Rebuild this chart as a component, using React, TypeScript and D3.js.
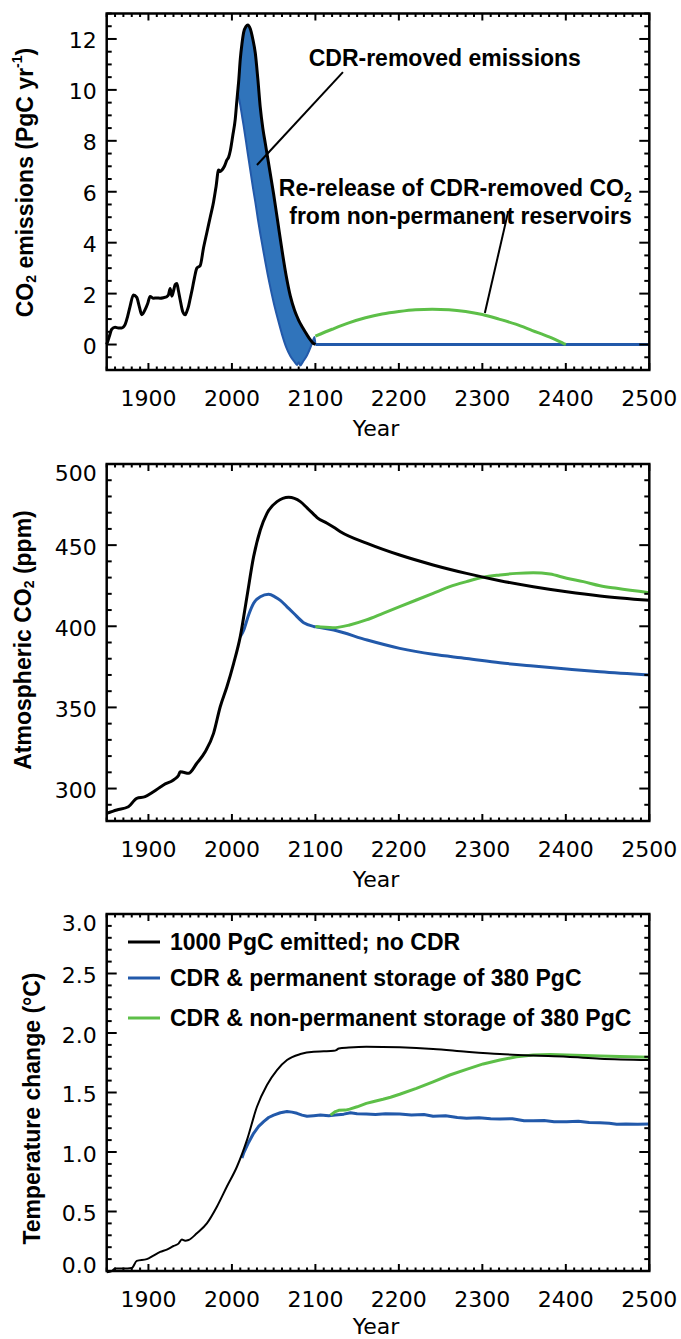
import React from "react";
import * as d3 from "d3";

// ---------- Data ----------
const histYears = [1850, 1853, 1856, 1860, 1864, 1868, 1872, 1875, 1878, 1882, 1886, 1889, 1892, 1896, 1899, 1902, 1906, 1910, 1914, 1918, 1922, 1924, 1926, 1928, 1930, 1932, 1934, 1936, 1938, 1941, 1944, 1946, 1948, 1950, 1952, 1955, 1958, 1962, 1966, 1970, 1974, 1978, 1981, 1984, 1986, 1988, 1991, 1994, 1996, 1998, 2001, 2004, 2006];
const histEmis = [0.0, 0.3, 0.6, 0.68, 0.65, 0.65, 0.78, 1.1, 1.5, 1.95, 1.85, 1.5, 1.17, 1.37, 1.6, 1.89, 1.82, 1.83, 1.82, 1.84, 1.88, 1.95, 2.2, 1.9, 2.1, 2.35, 2.4, 2.1, 1.76, 1.3, 1.17, 1.3, 1.5, 1.8, 2.1, 2.6, 3.0, 3.1, 3.8, 4.4, 5.0, 5.6, 6.2, 6.85, 6.8, 6.85, 7.0, 7.25, 7.35, 7.6, 8.2, 8.85, 9.6];

const cdrYears = [2007, 2008, 2010, 2012, 2014, 2017, 2019, 2022, 2025, 2028, 2031, 2034, 2037, 2040, 2045, 2050, 2055, 2060, 2065, 2070, 2075, 2078, 2080, 2082, 2085, 2090, 2094, 2097, 2099, 2100];
const noCdrEmis = [9.95, 10.3, 11.2, 11.8, 12.25, 12.5, 12.55, 12.4, 12.0, 11.45, 10.45, 9.3, 8.5, 7.9, 6.9, 5.9, 4.8, 3.7, 2.7, 1.9, 1.35, 1.1, 0.95, 0.82, 0.65, 0.38, 0.18, 0.06, 0.02, 0.0];
const cdrEmis = [9.95, 9.75, 9.4, 9.0, 8.6, 7.95, 7.5, 6.85, 6.2, 5.6, 4.95, 4.35, 3.8, 3.25, 2.4, 1.65, 1.0, 0.4, -0.1, -0.45, -0.68, -0.8, -0.7, -0.82, -0.68, -0.42, -0.12, 0.15, 0.3, 0.0];

const flatYears = [2100, 2500];
const flatEmis = [0, 0];

const releaseYears = [2100, 2120, 2140, 2160, 2180, 2200, 2220, 2240, 2260, 2280, 2300, 2320, 2340, 2360, 2380, 2398, 2400];
const releaseEmis = [0.33, 0.6, 0.85, 1.05, 1.2, 1.3, 1.37, 1.39, 1.37, 1.3, 1.18, 1.0, 0.8, 0.55, 0.3, 0.03, 0.0];

const co2NoCdrYears = [1850, 1862, 1876, 1886, 1896, 1906, 1918, 1930, 1936, 1938, 1942, 1948, 1958, 1968, 1978, 1986, 1994, 2002, 2010, 2018, 2026, 2034, 2042, 2054, 2068, 2082, 2090, 2098, 2102, 2114, 2122, 2130, 2162, 2201, 2241, 2281, 2321, 2361, 2401, 2441, 2500];
const co2NoCdr = [284.7, 286.8, 288.8, 294, 295, 298, 302.2, 305.3, 308, 310.4, 310, 309.4, 315.6, 322.7, 334, 350.4, 362.7, 377, 393.6, 418.2, 442.9, 459.3, 469.6, 476.8, 479.5, 476.8, 473, 469, 467, 463.5, 461, 458.3, 451.1, 443.9, 437.8, 432.6, 428.1, 424.4, 421.3, 418.7, 416];

const co2PermYears = [2010, 2014, 2020, 2026, 2034, 2044, 2052, 2058, 2066, 2074, 2086, 2098, 2102, 2122, 2162, 2201, 2241, 2281, 2321, 2361, 2401, 2441, 2500];
const co2Perm = [393.6, 397.5, 407, 414.2, 418.2, 419.7, 418, 416, 412, 408, 402.2, 399.9, 399.5, 397.7, 391.5, 386.4, 382.7, 380.2, 377.5, 375.5, 373.7, 372, 370];

const co2NonPermYears = [2100, 2121, 2141, 2161, 2181, 2201, 2221, 2241, 2261, 2281, 2301, 2321, 2341, 2361, 2381, 2401, 2421, 2441, 2461, 2500];
const co2NonPerm = [399.8, 399.1, 400.8, 403.9, 408, 412.1, 416.2, 420.3, 424.4, 427.5, 430.2, 431.6, 432.6, 433, 432.2, 429.6, 427.5, 425, 423.4, 420.7];

const tNoCdrYears = [1850, 1856, 1860, 1870, 1880, 1886, 1898, 1906, 1914, 1922, 1930, 1936, 1940, 1944, 1948, 1958, 1970, 1982, 1994, 2006, 2018, 2030, 2042, 2054, 2066, 2082, 2098, 2110, 2122, 2125, 2128, 2140, 2161, 2201, 2241, 2281, 2321, 2361, 2401, 2441, 2500];
const tNoCdr = [-0.01, 0.0, 0.02, 0.02, 0.025, 0.085, 0.1, 0.13, 0.16, 0.18, 0.21, 0.23, 0.265, 0.255, 0.26, 0.317, 0.4, 0.54, 0.71, 0.876, 1.1, 1.38, 1.563, 1.689, 1.773, 1.823, 1.843, 1.846, 1.85, 1.856, 1.87, 1.878, 1.885, 1.88, 1.866, 1.843, 1.823, 1.81, 1.8, 1.784, 1.773];

const tPermYears = [2012, 2014, 2020, 2026, 2032, 2038, 2044, 2050, 2058, 2066, 2072, 2078, 2084, 2090, 2098, 2106, 2116, 2124, 2134, 2142, 2150, 2161, 2172, 2184, 2201, 2215, 2230, 2241, 2256, 2270, 2281, 2296, 2310, 2321, 2336, 2350, 2361, 2374, 2386, 2401, 2415, 2428, 2441, 2452, 2461, 2472, 2486, 2500];
const tPerm = [0.95, 0.99, 1.08, 1.157, 1.215, 1.255, 1.29, 1.31, 1.33, 1.34, 1.335, 1.325, 1.31, 1.3, 1.305, 1.31, 1.305, 1.31, 1.318, 1.33, 1.322, 1.32, 1.315, 1.322, 1.32, 1.31, 1.315, 1.3, 1.305, 1.29, 1.283, 1.287, 1.28, 1.278, 1.28, 1.262, 1.263, 1.265, 1.255, 1.255, 1.258, 1.248, 1.246, 1.242, 1.233, 1.236, 1.234, 1.235];

const tNonPermYears = [2118, 2124, 2128, 2136, 2141, 2150, 2161, 2170, 2181, 2190, 2201, 2221, 2241, 2261, 2281, 2301, 2321, 2341, 2361, 2381, 2401, 2441, 2500];
const tNonPerm = [1.31, 1.34, 1.35, 1.352, 1.36, 1.38, 1.409, 1.425, 1.443, 1.46, 1.485, 1.535, 1.59, 1.647, 1.695, 1.74, 1.773, 1.8, 1.815, 1.82, 1.815, 1.807, 1.796];

const xTickValues = [1900, 2000, 2100, 2200, 2300, 2400, 2500];
const emisTicks = [0, 2, 4, 6, 8, 10, 12];
const co2Ticks = [300, 350, 400, 450, 500];
const tempTicks = [0, 0.5, 1, 1.5, 2, 2.5, 3];

const legendLabels = [
  "1000 PgC emitted; no CDR",
  "CDR & permanent storage of 380 PgC",
  "CDR & non-permanent storage of 380 PgC",
];

// ---------- Styles ----------
const BLACK = "#000000";
const BLUE = "#2259aa";
const FILL = "#3074bb";
const GREEN = "#5dbf48";
const TICK_FONT = "'DejaVu Sans', sans-serif";
const BOLD_FONT = "'Liberation Sans', Arial, Helvetica, sans-serif";

const W = 681;
const H = 1339;
const X0 = 106.7;
const X1 = 649.3;

const x = d3.scaleLinear().domain([1850, 2500]).range([X0, X1]);

type PanelProps = {
  top: number;
  bottom: number;
  y: d3.ScaleLinear<number, number>;
  majors: number[];
  minorStep: number;
  fmt: (v: number) => string;
  yearDy: number;
};

function zip(xs: number[], ys: number[]): [number, number][] {
  return xs.map((v, i) => [v, ys[i]] as [number, number]);
}

function Frame({ top, bottom, y, majors, minorStep, fmt, yearDy }: PanelProps) {
  const xMinor = d3.range(1850, 2501, 10).filter((v) => v % 100 !== 0);
  const [d0, d1] = y.domain();
  const n = Math.round((d1 - d0) / minorStep);
  const yMinor = d3
    .range(0, n + 1)
    .map((i) => d0 + i * minorStep)
    .filter((v) => !majors.some((m) => Math.abs(m - v) < minorStep / 10));
  const XMAJ = 7;
  const XMIN = 3.5;
  const YMAJ = 10;
  const YMIN = 5;
  const sw = 2;
  return (
    <g>
      {xTickValues.map((v) => (
        <g key={"xM" + v}>
          <line x1={x(v)} x2={x(v)} y1={bottom} y2={bottom - XMAJ} stroke={BLACK} strokeWidth={sw} />
          <line x1={x(v)} x2={x(v)} y1={top} y2={top + XMAJ} stroke={BLACK} strokeWidth={sw} />
        </g>
      ))}
      {xMinor.map((v) => (
        <g key={"xm" + v}>
          <line x1={x(v)} x2={x(v)} y1={bottom} y2={bottom - XMIN} stroke={BLACK} strokeWidth={sw} />
          <line x1={x(v)} x2={x(v)} y1={top} y2={top + XMIN} stroke={BLACK} strokeWidth={sw} />
        </g>
      ))}
      {majors.map((v) => (
        <g key={"yM" + v}>
          <line x1={X0} x2={X0 + YMAJ} y1={y(v)} y2={y(v)} stroke={BLACK} strokeWidth={sw} />
          <line x1={X1} x2={X1 - YMAJ} y1={y(v)} y2={y(v)} stroke={BLACK} strokeWidth={sw} />
        </g>
      ))}
      {yMinor.map((v, i) => (
        <g key={"ym" + i}>
          <line x1={X0} x2={X0 + YMIN} y1={y(v)} y2={y(v)} stroke={BLACK} strokeWidth={sw} />
          <line x1={X1} x2={X1 - YMIN} y1={y(v)} y2={y(v)} stroke={BLACK} strokeWidth={sw} />
        </g>
      ))}
      <rect x={X0} y={top} width={X1 - X0} height={bottom - top} fill="none" stroke={BLACK} strokeWidth={2.5} />
      {xTickValues.map((v) => (
        <text key={"xl" + v} x={x(v)} y={bottom + 28} textAnchor="middle" dominantBaseline="central" fontFamily={TICK_FONT} fontSize={22}>
          {v}
        </text>
      ))}
      <text x={(X0 + X1) / 2 - 2} y={bottom + yearDy} textAnchor="middle" dominantBaseline="central" fontFamily={TICK_FONT} fontSize={22}>
        Year
      </text>
      {majors.map((v) => {
        const ty = Math.min(Math.max(y(v) + 2, top + 9.5), bottom - 6);
        return (
          <text key={"yl" + v} x={96.7} y={ty} textAnchor="end" dominantBaseline="central" fontFamily={TICK_FONT} fontSize={22}>
            {fmt(v)}
          </text>
        );
      })}
    </g>
  );
}

export default function App() {
  const t1 = 13.5, b1 = 370;
  const y1 = d3.scaleLinear().domain([-1, 13]).range([b1, t1]);
  const t2 = 464, b2 = 821;
  const y2 = d3.scaleLinear().domain([280, 500]).range([b2, t2]);
  const t3 = 914, b3 = 1271;
  const y3 = d3.scaleLinear().domain([0, 3]).range([b3, t3]);

  const line1 = d3.line<[number, number]>().x((d) => x(d[0])).y((d) => y1(d[1])).curve(d3.curveMonotoneX);
  const line2 = d3.line<[number, number]>().x((d) => x(d[0])).y((d) => y2(d[1])).curve(d3.curveMonotoneX);
  const line3 = d3.line<[number, number]>().x((d) => x(d[0])).y((d) => y3(d[1])).curve(d3.curveLinear);
  const line3s = d3.line<[number, number]>().x((d) => x(d[0])).y((d) => y3(d[1])).curve(d3.curveMonotoneX);

  const cdrTable = cdrYears.map((yr, i) => ({ yr, hi: noCdrEmis[i], lo: cdrEmis[i] }));
  const area1 = d3
    .area<{ yr: number; hi: number; lo: number }>()
    .x((d) => x(d.yr))
    .y0((d) => y1(d.lo))
    .y1((d) => y1(d.hi))
    .curve(d3.curveMonotoneX);

  const blackEmis = zip(histYears.concat(cdrYears), histEmis.concat(noCdrEmis));

  const legendY = [942, 978, 1018];
  const legendColors = [BLACK, BLUE, GREEN];

  return (
    <svg width={W} height={H} style={{ position: "absolute", left: 0, top: 0, background: "#fff" }}>
      <rect x={0} y={0} width={W} height={H} fill="#fff" />

      {/* Panel 1: emissions */}
      <path d={area1(cdrTable) || ""} fill={FILL} stroke="none" />
      <path d={line1(zip(cdrYears, cdrEmis)) || ""} fill="none" stroke={BLUE} strokeWidth={2} />
      <path d={line1(zip(flatYears, flatEmis)) || ""} fill="none" stroke={BLUE} strokeWidth={3} />
      <path d={line1(zip(releaseYears, releaseEmis)) || ""} fill="none" stroke={GREEN} strokeWidth={3} />
      <path d={line1(blackEmis) || ""} fill="none" stroke={BLACK} strokeWidth={3} strokeLinejoin="round" />

      <line x1={x(2133)} y1={y1(10.7)} x2={x(2030)} y2={y1(7.05)} stroke={BLACK} strokeWidth={2} />
      <text x={x(2255)} y={y1(10.94)} textAnchor="middle" fontFamily={BOLD_FONT} fontWeight="bold" fontSize={23}>
        CDR-removed emissions
      </text>
      <text x={x(2479)} y={y1(5.83)} textAnchor="end" fontFamily={BOLD_FONT} fontWeight="bold" fontSize={23}>
        Re-release of CDR-removed CO<tspan fontSize={14} dy={6}>2</tspan>
      </text>
      <text x={x(2479)} y={y1(4.73)} textAnchor="end" fontFamily={BOLD_FONT} fontWeight="bold" fontSize={23}>
        from non-permanent reservoirs
      </text>
      <line x1={x(2330.6)} y1={y1(5.17)} x2={x(2303)} y2={y1(1.24)} stroke={BLACK} strokeWidth={2} />

      <Frame top={t1} bottom={b1} y={y1} majors={emisTicks} minorStep={0.5} fmt={(v) => String(v)} yearDy={58} />
      <text transform={`translate(25,182.5) rotate(-90)`} textAnchor="middle" dominantBaseline="central" fontFamily={BOLD_FONT} fontWeight="bold" fontSize={23}>
        CO<tspan fontSize={14} dy={6}>2</tspan>
        <tspan dy={-6}> emissions (PgC yr</tspan>
        <tspan fontSize={14} dy={-8}>-1</tspan>
        <tspan dy={8}>)</tspan>
      </text>

      {/* Panel 2: CO2 */}
      <path d={line2(zip(co2PermYears, co2Perm)) || ""} fill="none" stroke={BLUE} strokeWidth={3} />
      <path d={line2(zip(co2NonPermYears, co2NonPerm)) || ""} fill="none" stroke={GREEN} strokeWidth={3} />
      <path d={line2(zip(co2NoCdrYears, co2NoCdr)) || ""} fill="none" stroke={BLACK} strokeWidth={3} />
      <Frame top={t2} bottom={b2} y={y2} majors={co2Ticks} minorStep={10} fmt={(v) => String(v)} yearDy={58} />
      <text transform={`translate(23,640) rotate(-90)`} textAnchor="middle" dominantBaseline="central" fontFamily={BOLD_FONT} fontWeight="bold" fontSize={23}>
        Atmospheric CO<tspan fontSize={14} dy={6}>2</tspan>
        <tspan dy={-6}> (ppm)</tspan>
      </text>

      {/* Panel 3: temperature */}
      <path d={line3(zip(tPermYears, tPerm)) || ""} fill="none" stroke={BLUE} strokeWidth={3} strokeLinejoin="round" />
      <path d={line3(zip(tNonPermYears, tNonPerm)) || ""} fill="none" stroke={GREEN} strokeWidth={3} strokeLinejoin="round" />
      <path d={line3s(zip(tNoCdrYears, tNoCdr)) || ""} fill="none" stroke={BLACK} strokeWidth={2} strokeLinejoin="round" />
      <Frame top={t3} bottom={b3} y={y3} majors={tempTicks} minorStep={0.1} fmt={(v) => v.toFixed(1)} yearDy={55} />
      <text transform={`translate(32,1108.5) rotate(-90)`} textAnchor="middle" dominantBaseline="central" fontFamily={BOLD_FONT} fontWeight="bold" fontSize={23}>
        Temperature change (°C)
      </text>

      {legendLabels.map((lab, i) => (
        <g key={lab}>
          <line x1={128} x2={160} y1={legendY[i]} y2={legendY[i]} stroke={legendColors[i]} strokeWidth={3} />
          <text x={170} y={legendY[i]} dominantBaseline="central" fontFamily={BOLD_FONT} fontWeight="bold" fontSize={23}>
            {lab}
          </text>
        </g>
      ))}
    </svg>
  );
}
